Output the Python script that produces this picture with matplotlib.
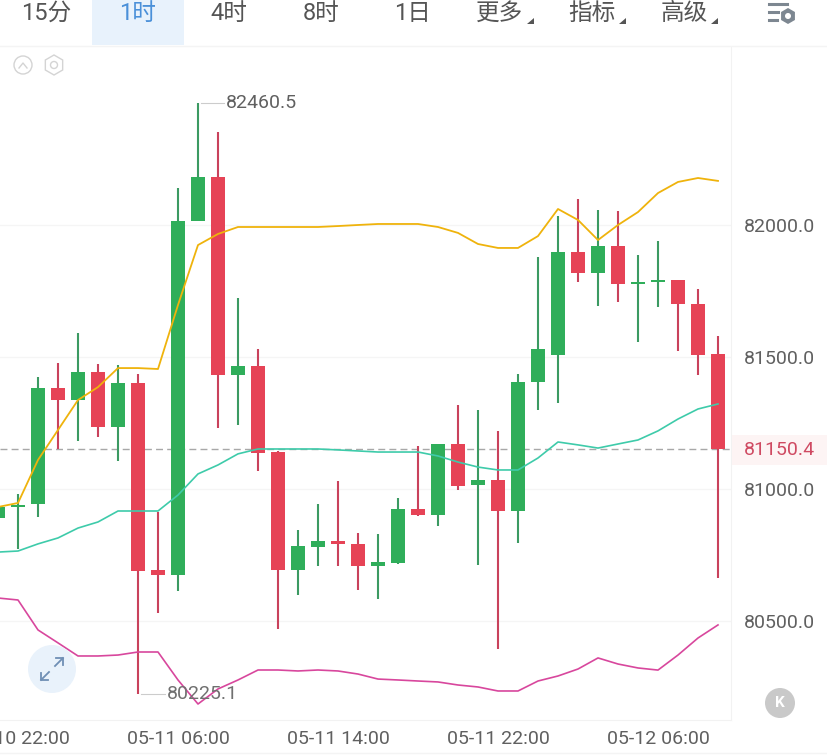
# BTC 1h candles with bollinger bands, phone app screenshot style

from matplotlib import pyplot as plt
from matplotlib.patches import Circle, Rectangle, RegularPolygon, Polygon
import numpy as np

plt.rcParams['font.family'] = ['Roboto', 'Noto Sans CJK SC', 'DejaVu Sans']

# candle data, one hour each
opens = [80890.1, 80931.8, 80943.1, 81382.6, 81337.1, 81443.2, 81234.9, 81401.5, 80693.1, 80674.2,
         82015.2, 82181.8, 81431.8, 81465.9, 81140.1, 80693.1, 80780.2, 80803.0, 80791.6, 80708.3,
         80719.6, 80924.2, 80901.5, 81170.4, 81015.1, 81034.0, 80916.6, 81405.3, 81507.6, 81897.7,
         81818.2, 81920.4, 81776.5, 81784.1, 81791.7, 81700.8, 81511.3]
highs = [80931.8, 80981.0, 81424.2, 81477.3, 81590.9, 81473.5, 81469.7, 81435.6, 80912.8, 82140.1,
         82460.5, 82352.3, 81723.5, 81530.3, 81143.9, 80844.7, 80943.1, 81030.2, 80833.3, 80829.5,
         80965.9, 81162.8, 81170.4, 81318.2, 81299.2, 81219.7, 81435.6, 81878.8, 82034.1, 82098.5,
         82056.8, 82053.0, 81886.4, 81939.4, 81791.7, 81757.6, 81579.6]
lows = [80867.4, 80772.6, 80893.9, 81150.4, 81181.8, 81197.0, 81106.0, 80225.1, 80530.3, 80613.6,
        82015.2, 81231.0, 81242.4, 81068.2, 80469.7, 80598.4, 80708.3, 80708.3, 80617.4, 80583.3,
        80715.8, 80897.7, 80859.8, 80996.2, 80712.1, 80393.9, 80795.4, 81299.2, 81325.7, 81784.1,
        81693.2, 81708.4, 81556.8, 81689.4, 81522.7, 81431.8, 80662.8]
closes = [80931.8, 80939.3, 81382.6, 81337.1, 81443.2, 81234.9, 81401.5, 80689.3, 80674.2, 82015.2,
          82181.8, 81431.8, 81465.9, 81136.3, 80693.1, 80784.0, 80803.0, 80791.6, 80708.3, 80723.4,
          80924.2, 80901.5, 81170.4, 81011.3, 81034.0, 80916.6, 81405.3, 81530.3, 81897.7, 81818.2,
          81920.4, 81776.5, 81784.1, 81791.7, 81700.8, 81507.6, 81150.4]

# bollinger bands
upper = [80931.8, 80947, 81110, 81223.5, 81337, 81386, 81458, 81458, 81454.5, 81697,
         81924, 81966, 81992.4, 81992.4, 81992.4, 81992.4, 81992.4, 81996, 82000, 82003.8,
         82003.8, 82003.8, 81992.4, 81970, 81928, 81913, 81913, 81958, 82060.6, 82019,
         81943, 82000, 82049, 82121, 82163, 82178, 82167]
middle = [80761, 80765, 80792, 80814.5, 80852, 80875, 80916.6, 80916.6, 80916.6, 80977,
          81057, 81091, 81133, 81151.5, 81151.5, 81151.5, 81151.5, 81148, 81144, 81140,
          81140, 81140, 81125, 81102, 81083, 81072, 81072, 81117.4, 81178, 81167,
          81155, 81170.4, 81185.6, 81220, 81265, 81303, 81322]
lower = [80587, 80579.5, 80466, 80417, 80367.4, 80367.4, 80371, 80382.5, 80382.5, 80276.5,
         80185.5, 80242.5, 80276.5, 80314.3, 80314.3, 80310.6, 80314.3, 80310.6, 80299, 80280,
         80276.5, 80272.6, 80269, 80257.5, 80250, 80234.8, 80234.8, 80272.6, 80291.6, 80318,
         80360, 80337, 80322, 80314, 80371, 80435.5, 80485]

price_ticks = [82000, 81500, 81000, 80500]
time_ticks = [1, 9, 17, 25, 33]
time_labels = ['05-10 22:00', '05-11 06:00', '05-11 14:00', '05-11 22:00', '05-12 06:00']
last_price = 81150.4
high_price = 82460.5
low_price = 80225.1

tabs = ['15分', '1时', '4时', '8时', '1日', '更多', '指标', '高级']
tab_x = [46, 138, 229, 321, 413, 500, 592, 684]

GREEN = '#2fae5a'
RED = '#e64356'
W, H = 828, 756

fig = plt.figure(figsize=(W / 100, H / 100), dpi=100, facecolor='white')

# the chart area in pixels is x 0-731, y 46-720
ax = fig.add_axes([0, 1 - 720 / H, 731 / W, (720 - 46) / H])
ax.set_xlim(0.1, 36.65)
ax.set_ylim(80124.9, 82678)

x = np.arange(len(opens))
opens = np.array(opens)
closes = np.array(closes)
colors = [GREEN if c >= o else RED for o, c in zip(opens, closes)]
wick_colors = ['#3c9a62' if c >= o else '#c9425c' for o, c in zip(opens, closes)]

ax.vlines(x, lows, highs, colors=wick_colors, linewidth=1.5, zorder=3)
ax.bar(x, np.maximum(np.abs(closes - opens), 6), bottom=np.minimum(opens, closes), width=0.68, color=colors, zorder=4)

ax.plot(x, upper, color='#efb30c', linewidth=1.3, zorder=5)
ax.plot(x, middle, color='#3ecbaa', linewidth=1.2, zorder=5)
ax.plot(x, lower, color='#d8479d', linewidth=1.2, zorder=5)

# grid and last price line
ax.set_yticks(price_ticks)
ax.set_yticklabels(['%.1f' % p for p in price_ticks])
ax.set_xticks(time_ticks)
ax.set_xticklabels(time_labels)
ax.grid(axis='y', color='#f5f5f5', linewidth=1)
ax.set_axisbelow(True)
ax.axhline(last_price, color='#a8a8a8', linewidth=1, linestyle=(0, (5, 3)), zorder=2)

ax.yaxis.tick_right()
ax.tick_params(axis='y', length=0, pad=9, labelsize=14, labelcolor='#606060')
ax.tick_params(axis='x', length=0, pad=7, labelsize=14, labelcolor='#606060')
for s in ['top', 'left']:
    ax.spines[s].set_visible(False)
ax.spines['right'].set_color('#f2f2f2')
ax.spines['bottom'].set_color('#f2f2f2')

# high and low labels
ax.plot([10.15, 11.3], [high_price, high_price], color='#cccccc', linewidth=0.8, zorder=3)
ax.text(11.4, high_price, '%.1f' % high_price, color='#606060', fontsize=14, va='center', ha='left')
ax.plot([7.15, 8.35], [low_price, low_price], color='#cccccc', linewidth=0.8, zorder=3)
ax.text(8.45, low_price, '%.1f' % low_price, color='#707070', fontsize=14, va='center', ha='left', zorder=6)

# overlay in pixel coordinates for the app's tabs and buttons
top = fig.add_axes([0, 0, 1, 1], facecolor='none')
top.set_xlim(0, W)
top.set_ylim(H, 0)
top.axis('off')

top.add_patch(Rectangle((92, 0), 92, 45, color='#e8f2fc', linewidth=0))
top.plot([0, W], [45.5, 45.5], color='#f4f4f4', linewidth=1)
top.plot([0, W], [753, 753], color='#f4f4f4', linewidth=1)

for t, tx in zip(tabs, tab_x):
    color = '#4a90d9' if t == '1时' else '#555555'
    top.text(tx, 13, t, color=color, fontsize=17, ha='center', va='center')
for tx in [531, 623, 715]:
    top.add_patch(Polygon([[tx - 4, 24], [tx + 3, 24], [tx + 3, 18]], color='#555555', linewidth=0))

# settings icon
top.plot([769, 787], [4, 4], color='#7d8791', linewidth=2.2)
top.plot([769, 778], [12, 12], color='#7d8791', linewidth=2.2)
top.plot([769, 777], [20, 20], color='#7d8791', linewidth=2.2)
top.add_patch(RegularPolygon((788, 16), 6, radius=8, color='#7d8791', linewidth=0))
top.add_patch(Circle((788, 16), 3, color='white', linewidth=0))

# small collapse and indicator icons
top.add_patch(Circle((23, 65), 9, fill=False, edgecolor='#d4d4d4', linewidth=1))
top.plot([19, 23, 27], [68, 63, 68], color='#d4d4d4', linewidth=1)
top.add_patch(RegularPolygon((54, 65), 6, radius=10, fill=False, edgecolor='#d4d4d4', linewidth=1))
top.add_patch(Circle((54, 65), 3.5, fill=False, edgecolor='#d4d4d4', linewidth=1))

# expand button
top.add_patch(Circle((52, 669), 24, color='#e9f2fb', linewidth=0, zorder=1))
top.plot([56, 63, 63], [658, 658, 665], color='#6f8fb5', linewidth=1.3)
top.plot([63, 55], [658, 666], color='#6f8fb5', linewidth=1.3)
top.plot([41, 41, 48], [673, 680, 680], color='#6f8fb5', linewidth=1.3)
top.plot([41, 49], [680, 672], color='#6f8fb5', linewidth=1.3)

# back to latest button
top.add_patch(Circle((780, 703), 15, color='#c9c9c9', linewidth=0))
top.text(780, 703, 'K', color='white', fontsize=11, fontweight='bold', ha='center', va='center')

# last price tag
top.add_patch(Rectangle((732, 435), 96, 30, color='#fdf4f4', linewidth=0))
top.text(779, 450, '%.1f' % last_price, color='#cf4a62', fontsize=14, ha='center', va='center')

fig.savefig('out.png', dpi=100)
